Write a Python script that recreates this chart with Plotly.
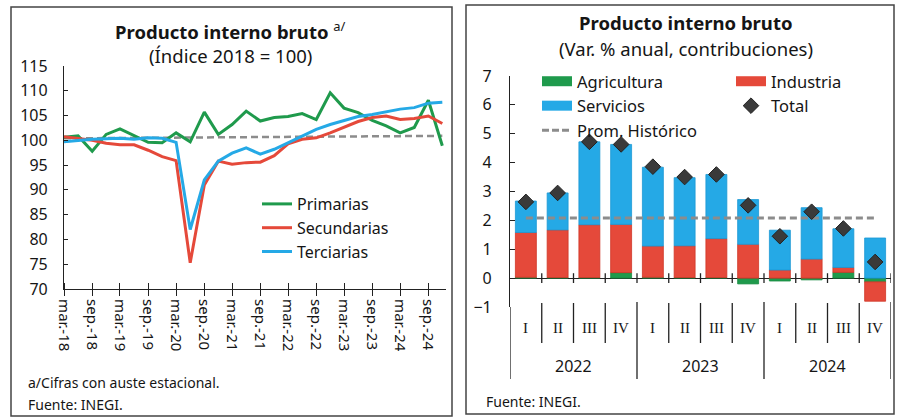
import plotly.graph_objects as go

# ---------------- Left chart data (quarterly index, 2018 = 100) ----------------
quarters_left = ["2018-03-01", "2018-06-01", "2018-09-01", "2018-12-01",
                 "2019-03-01", "2019-06-01", "2019-09-01", "2019-12-01",
                 "2020-03-01", "2020-06-01", "2020-09-01", "2020-12-01",
                 "2021-03-01", "2021-06-01", "2021-09-01", "2021-12-01",
                 "2022-03-01", "2022-06-01", "2022-09-01", "2022-12-01",
                 "2023-03-01", "2023-06-01", "2023-09-01", "2023-12-01",
                 "2024-03-01", "2024-06-01", "2024-09-01", "2024-12-01"]
primarias = [100.6, 100.9, 97.8, 101.2, 102.3, 100.9, 99.6, 99.5,
             101.5, 99.7, 105.7, 101.2, 103.2, 105.9, 103.9, 104.6,
             104.8, 105.4, 104.2, 109.6, 106.5, 105.6, 104.0, 102.9,
             101.5, 102.6, 108.1, 98.9]
secundarias = [100.7, 100.4, 100.0, 99.4, 99.1, 99.1, 98.0, 96.7,
               95.9, 75.3, 91.0, 95.8, 95.2, 95.5, 95.6, 96.9,
               99.3, 100.2, 100.5, 101.5, 102.7, 103.8, 104.6, 104.9,
               104.2, 104.4, 104.9, 103.4]
terciarias = [99.7, 100.0, 100.2, 100.3, 100.4, 100.2, 100.5, 100.4,
              99.6, 82.0, 92.0, 95.8, 97.4, 98.5, 97.2, 98.2,
              99.5, 100.9, 102.2, 103.2, 104.0, 104.8, 105.2, 105.7,
              106.3, 106.6, 107.5, 107.7]
ref_dates = ["2018-03-01", "2024-12-01"]
ref_values = [100.4, 100.9]
left_tickvals = ["2018-03-01", "2018-09-01", "2019-03-01", "2019-09-01",
                 "2020-03-01", "2020-09-01", "2021-03-01", "2021-09-01",
                 "2022-03-01", "2022-09-01", "2023-03-01", "2023-09-01",
                 "2024-03-01", "2024-09-01"]
left_ticktext = ["mar.-18", "sep.-18", "mar.-19", "sep.-19", "mar.-20", "sep.-20",
                 "mar.-21", "sep.-21", "mar.-22", "sep.-22", "mar.-23", "sep.-23",
                 "mar.-24", "sep.-24"]

# ---------------- Right chart data (annual % change, contributions) ----------------
years = ["2022", "2023", "2024"]
quarter_names = ["I", "II", "III", "IV"]
categories = [f"{q} {y}" for y in years for q in quarter_names]
agricultura = [0.03, 0.02, 0.02, 0.19, 0.03, 0.02, 0.02, -0.20, -0.10, -0.06, 0.20, -0.13]
industria = [1.55, 1.65, 1.83, 1.67, 1.08, 1.10, 1.35, 1.17, 0.28, 0.66, 0.17, -0.67]
servicios = [1.09, 1.28, 2.87, 2.77, 2.73, 2.36, 2.22, 1.55, 1.38, 1.78, 1.34, 1.39]
total = [2.64, 2.95, 4.72, 4.63, 3.86, 3.50, 3.59, 2.52, 1.45, 2.30, 1.72, 0.56]
prom_historico = [2.08, 2.08, 2.08, 2.08, 2.08, 2.08, 2.08, 2.08, 2.08, 2.08, 2.08, 2.08]

GREEN = "#1f9a4c"
RED = "#e5493a"
BLUE = "#25a9e6"
GRAY = "#8c8c8c"
DARK = "#3a3a3a"
TXT = "#151515"
FONT = "Noto Sans"

W, H = 898, 420


def py(px):
    return 1 - px / H


def pxx(px):
    return px / W


fig = go.Figure()

# ---- left chart traces ----
fig.add_trace(go.Scatter(x=ref_dates, y=ref_values, mode="lines", showlegend=False,
                         line=dict(color=GRAY, width=2.5, dash="7px,4px"),
                         xaxis="x", yaxis="y"))
fig.add_trace(go.Scatter(x=quarters_left, y=primarias, name="Primarias", mode="lines",
                         line=dict(color=GREEN, width=3), legend="legend3",
                         xaxis="x", yaxis="y"))
fig.add_trace(go.Scatter(x=quarters_left, y=secundarias, name="Secundarias", mode="lines",
                         line=dict(color=RED, width=3), legend="legend3",
                         xaxis="x", yaxis="y"))
fig.add_trace(go.Scatter(x=quarters_left, y=terciarias, name="Terciarias", mode="lines",
                         line=dict(color=BLUE, width=3), legend="legend3",
                         xaxis="x", yaxis="y"))

# ---- right chart traces ----
bar_kw = dict(xaxis="x2", yaxis="y2", width=0.66, showlegend=False)
fig.add_trace(go.Bar(x=categories, y=agricultura, name="Agricultura",
                     marker=dict(color=GREEN, line=dict(color="#178a40", width=0.8)), **bar_kw))
fig.add_trace(go.Bar(x=categories, y=industria, name="Industria",
                     marker=dict(color=RED, line=dict(color="#cf3526", width=0.8)), **bar_kw))
fig.add_trace(go.Bar(x=categories, y=servicios, name="Servicios",
                     marker=dict(color=BLUE, line=dict(color="#1b98d4", width=0.8)), **bar_kw))
fig.add_trace(go.Scatter(x=categories, y=prom_historico, mode="lines", name="Prom. Histórico",
                         line=dict(color=GRAY, width=3, dash="7px,4px"),
                         xaxis="x2", yaxis="y2", showlegend=False))
fig.add_trace(go.Scatter(x=categories, y=total, mode="markers", name="Total",
                         marker=dict(symbol="diamond", size=12, color=DARK,
                                     line=dict(color="#222", width=1)),
                         xaxis="x2", yaxis="y2", legend="legend2", legendrank=2))

# legend entries styled like wide swatches
for nm, col in [("Agricultura", GREEN), ("Servicios", BLUE)]:
    fig.add_trace(go.Scatter(x=[None], y=[None], mode="lines", name=nm,
                             line=dict(color=col, width=10), xaxis="x2", yaxis="y2",
                             legend="legend"))
fig.add_trace(go.Scatter(x=[None], y=[None], mode="lines", name="Prom. Histórico",
                         line=dict(color=GRAY, width=3, dash="7px,3px"),
                         xaxis="x2", yaxis="y2", legend="legend"))
fig.add_trace(go.Scatter(x=[None], y=[None], mode="lines", name="Industria",
                         line=dict(color=RED, width=10), xaxis="x2", yaxis="y2",
                         legend="legend2", legendrank=1))

shapes = []
# panel borders
shapes.append(dict(type="rect", xref="paper", yref="paper", x0=pxx(11), x1=pxx(452),
                   y0=py(416), y1=py(7), line=dict(color="#444", width=1.5)))
shapes.append(dict(type="rect", xref="paper", yref="paper", x0=pxx(466), x1=pxx(894),
                   y0=py(414), y1=py(5), line=dict(color="#444", width=1.5)))

n = len(categories)
# small ticks crossing the zero line at category boundaries
for k in range(n):
    shapes.append(dict(type="line", xref="x2", yref="y2", x0=k + 0.5, x1=k + 0.5,
                       y0=-0.17, y1=0.17, line=dict(color="#222", width=1.3)))
# separators in the category axis
for k in range(n - 1):
    if (k + 1) % 4 == 0:
        continue
    shapes.append(dict(type="line", xref="x2", yref="paper", x0=k + 0.5, x1=k + 0.5,
                       y0=py(343), y1=py(303), line=dict(color="#222", width=1.3)))
for k in range(0, n + 1, 4):
    top = 307 if k == 0 else 302
    shapes.append(dict(type="line", xref="x2", yref="paper", x0=k - 0.5, x1=k - 0.5,
                       y0=py(379), y1=py(top), line=dict(color="#222", width=1.3)))

annotations = []


def note(x, y, text, size, xanchor="center", family=FONT, xref="paper"):
    annotations.append(dict(xref=xref, yref="paper", x=x, y=y, xanchor=xanchor,
                            yanchor="middle", text=text, showarrow=False,
                            font=dict(size=size, color=TXT, family=family)))


note(pxx(231), py(31), "<b>Producto interno bruto</b> <sup>a/</sup>", 18.5)
note(pxx(231), py(56), "(Índice 2018 = 100)", 18.5)
note(pxx(686), py(22), "<b>Producto interno bruto</b>", 18.5)
note(pxx(686), py(48), "(Var. % anual, contribuciones)", 18.5)
note(pxx(26), py(382), "a/Cifras con auste estacional.", 14, xanchor="left")
note(pxx(26), py(404), "Fuente: INEGI.", 14, xanchor="left")
note(pxx(484), py(401), "Fuente: INEGI.", 14, xanchor="left")
for i, c in enumerate(categories):
    note(c, py(328), c.split(" ")[0], 15, family="Liberation Serif", xref="x2")
for j, y in enumerate(years):
    note(4 * j + 1.5, py(366), y, 16, xref="x2")

fig.update_layout(
    width=W, height=H, autosize=False,
    margin=dict(l=0, r=0, t=0, b=0, pad=0, autoexpand=False),
    paper_bgcolor="white", plot_bgcolor="white",
    font=dict(family=FONT, color=TXT),
    barmode="relative",
    shapes=shapes, annotations=annotations,
    xaxis=dict(domain=[pxx(64), pxx(446)], type="date",
               range=["2018-03-01", "2024-12-25"],
               tickmode="array", tickvals=left_tickvals, ticktext=left_ticktext,
               tickangle=90, tickfont=dict(size=15, color=TXT),
               showgrid=False, zeroline=False, automargin=False,
               showline=True, linecolor="#222", linewidth=1.2,
               ticks="outside", ticklen=6, tickcolor="#222", tickwidth=1.2,
               minor=dict(ticks="inside", ticklen=6, tickcolor="#222", tickwidth=1.2,
                          tickmode="linear", tick0="2018-03-01", dtick="M6", showgrid=False),
               anchor="y"),
    yaxis=dict(domain=[py(289), py(66)], range=[70, 115], dtick=5,
               tickfont=dict(size=16, color=TXT), automargin=False,
               showgrid=False, zeroline=False,
               showline=True, linecolor="#222", linewidth=1.2,
               ticks="inside", ticklen=4, tickcolor="#222",
               ticklabelstandoff=12, anchor="x"),
    xaxis2=dict(domain=[pxx(510), pxx(891)], type="category", range=[-0.5, n - 0.5],
                showticklabels=False, showgrid=False, zeroline=False, showline=False,
                ticks="", anchor="y2", automargin=False),
    yaxis2=dict(domain=[py(307), py(76)], range=[-1, 7], dtick=1,
                tickfont=dict(size=16, color=TXT), automargin=False,
                showgrid=False, zeroline=True, zerolinecolor="#222", zerolinewidth=1.3,
                showline=True, linecolor="#222", linewidth=1.2,
                ticks="inside", ticklen=5, tickcolor="#222",
                ticklabelstandoff=14, anchor="x2"),
    legend=dict(x=pxx(537), y=py(64), xanchor="left", yanchor="top",
                bgcolor="rgba(0,0,0,0)", font=dict(size=16.5, color=TXT), tracegroupgap=0),
    legend2=dict(x=pxx(731), y=py(64), xanchor="left", yanchor="top",
                 bgcolor="rgba(0,0,0,0)", font=dict(size=16.5, color=TXT), tracegroupgap=0),
    legend3=dict(x=pxx(257), y=py(187), xanchor="left", yanchor="top",
                 bgcolor="rgba(0,0,0,0)", font=dict(size=16, color=TXT), tracegroupgap=0),
)

fig.write_html("out.html", config={"displayModeBar": False},
               post_script="document.body.style.margin='0';document.body.style.overflow='hidden';")
